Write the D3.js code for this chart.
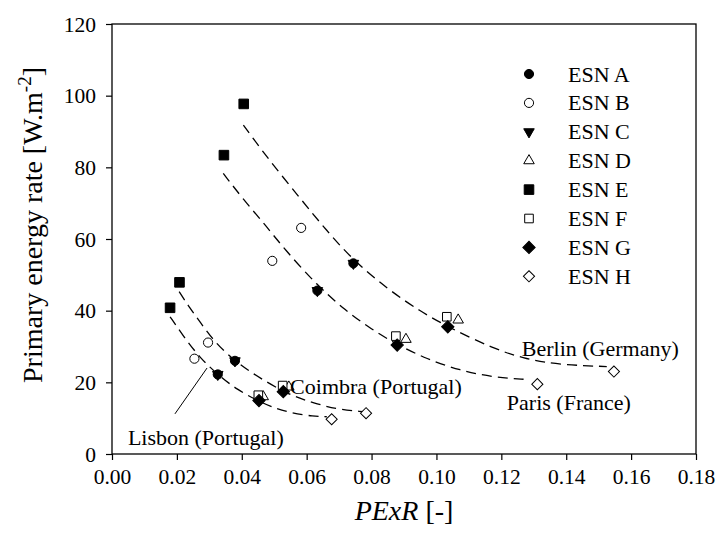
<!DOCTYPE html>
<html>
<head>
<meta charset="utf-8">
<script src="https://cdn.jsdelivr.net/npm/d3@7"></script>
<style>
  html, body { margin: 0; padding: 0; background: #fff; }
  svg { display: block; font-family: "Liberation Serif", "Times New Roman", serif; }
</style>
</head>
<body>
<svg id="chart" width="717" height="543"></svg>
<script>
// Each envelope solution: [PExR, primary energy rate] for Lisbon, Coimbra, Paris, Berlin
const esnA = [[0.0326, 22.2], [0.0379, 26.0], [0.0633, 45.6], [0.0744, 53.2]];
const esnB = [[0.0254, 26.6], [0.0296, 31.1], [0.0494, 53.9], [0.0583, 63.1]];
const esnC = [[0.0326, 22.2], [0.0379, 26.0], [0.0633, 45.6], [0.0744, 53.2]];
const esnD = [[0.0466, 16.0], [0.0545, 18.7], [0.0906, 32.0], [0.1067, 37.4]];
const esnE = [[0.0179, 40.8], [0.0208, 47.9], [0.0345, 83.4], [0.0406, 97.7]];
const esnF = [[0.0451, 16.4], [0.0526, 19.1], [0.0875, 32.9], [0.1032, 38.3]];
const esnG = [[0.0453, 14.9], [0.0528, 17.4], [0.0879, 30.4], [0.1035, 35.5]];
const esnH = [[0.0677, 9.7], [0.0783, 11.4], [0.1311, 19.5], [0.1547, 23.0]];

const seriesLabels = ["ESN A", "ESN B", "ESN C", "ESN D", "ESN E", "ESN F", "ESN G", "ESN H"];

// Trend curves per climate
const lisbonTrend = [[0.0179, 38.3], [0.0220, 32.9], [0.0271, 26.8], [0.0326, 22.2], [0.0384, 18.0],
  [0.0451, 14.8], [0.0497, 12.9], [0.0554, 11.4], [0.0621, 10.5], [0.0662, 10.4]];
const coimbraTrend = [[0.0207, 45.3], [0.0240, 40.7], [0.0271, 36.9], [0.0317, 31.1], [0.0379, 26.0],
  [0.0425, 23.0], [0.0466, 20.7], [0.0528, 17.4], [0.0579, 15.5], [0.0631, 14.0], [0.0693, 12.5], [0.0775, 11.8]];
const parisTrend = [[0.0343, 78.3], [0.0405, 71.0], [0.0472, 64.0], [0.0533, 57.0], [0.0633, 47.0],
  [0.0720, 40.0], [0.0800, 34.8], [0.0877, 30.6], [0.0970, 26.5], [0.1073, 23.3], [0.1175, 21.4], [0.1278, 20.8]];
const berlinTrend = [[0.0405, 91.8], [0.0480, 82.5], [0.0583, 71.0], [0.0660, 62.5], [0.0744, 54.0],
  [0.0850, 46.0], [0.0950, 39.8], [0.1037, 35.4], [0.1175, 29.4], [0.1278, 26.4], [0.1381, 24.9], [0.1525, 24.4]];

const xTicks = [0, 0.02, 0.04, 0.06, 0.08, 0.10, 0.12, 0.14, 0.16, 0.18];
const yTicks = [0, 20, 40, 60, 80, 100, 120];

const climateNames = ["Lisbon (Portugal)", "Coimbra (Portugal)", "Paris (France)", "Berlin (Germany)"];

// ---- drawing ----
const svg = d3.select("#chart");
const plotLeft = 112, plotRight = 696, plotTop = 24, plotBottom = 454;

const x = d3.scaleLinear().domain([0, 0.18]).range([plotLeft, plotRight]);
const y = d3.scaleLinear().domain([0, 120]).range([plotBottom, plotTop]);

// marker styles, in series order
const markerStyles = [
  { type: d3.symbolCircle,   size: 66, fill: "#000", rot: 0 },
  { type: d3.symbolCircle,   size: 66, fill: "#fff", rot: 0 },
  { type: d3.symbolTriangle, size: 48, fill: "#000", rot: 180 },
  { type: d3.symbolTriangle, size: 48, fill: "#fff", rot: 0 },
  { type: d3.symbolSquare,   size: 92, fill: "#000", rot: 0 },
  { type: d3.symbolSquare,   size: 74, fill: "#fff", rot: 0 },
  { type: d3.symbolSquare,   size: 76, fill: "#000", rot: 45 },
  { type: d3.symbolSquare,   size: 62, fill: "#fff", rot: 45 }
];
const allSeries = [esnA, esnB, esnC, esnD, esnE, esnF, esnG, esnH];

// trend curves
const trendLine = d3.line()
  .x(d => x(d[0]))
  .y(d => y(d[1]))
  .curve(d3.curveBasis);

svg.append("g")
  .selectAll("path")
  .data([lisbonTrend, coimbraTrend, parisTrend, berlinTrend])
  .join("path")
  .attr("d", trendLine)
  .attr("fill", "none")
  .attr("stroke", "#000")
  .attr("stroke-width", 1.3)
  .attr("stroke-dasharray", "10,6");

// axes
const fontTick = 21.5;
const xAxis = d3.axisBottom(x).tickValues(xTicks).tickFormat(d3.format(".2f")).tickSize(6).tickSizeOuter(0).tickPadding(10);
const yAxis = d3.axisLeft(y).tickValues(yTicks).tickFormat(d3.format("d")).tickSize(6).tickSizeOuter(0).tickPadding(10);

const gx = svg.append("g").attr("transform", `translate(0,${plotBottom})`).call(xAxis);
const gy = svg.append("g").attr("transform", `translate(${plotLeft},0)`).call(yAxis);
[gx, gy].forEach(g => {
  g.select(".domain").remove();
  g.selectAll(".tick line").attr("stroke", "#000").attr("stroke-width", 1.2);
  g.selectAll(".tick text")
    .attr("fill", "#000")
    .style("font-family", "'Liberation Serif', 'Times New Roman', serif")
    .style("font-size", fontTick + "px");
});
gx.selectAll(".tick text").attr("dy", "0.67em");
gy.selectAll(".tick text").attr("dy", "0.34em");

// frame
svg.append("rect")
  .attr("x", plotLeft).attr("y", plotTop)
  .attr("width", plotRight - plotLeft).attr("height", plotBottom - plotTop)
  .attr("fill", "none").attr("stroke", "#000").attr("stroke-width", 1.3);

// markers
function symbolPath(style) {
  return d3.symbol().type(style.type).size(style.size)();
}
allSeries.forEach((series, i) => {
  const st = markerStyles[i];
  svg.append("g")
    .selectAll("path")
    .data(series)
    .join("path")
    .attr("d", symbolPath(st))
    .attr("transform", d => `translate(${x(d[0])},${y(d[1])}) rotate(${st.rot})`)
    .attr("fill", st.fill)
    .attr("stroke", "#000")
    .attr("stroke-width", 1);
});

// climate annotations
const annot = svg.append("g")
  .style("font-size", "22px")
  .attr("fill", "#000");
const annotAt = [[0.0049, 2.5], [0.0549, 16.7], [0.1217, 12.3], [0.1263, 27.35]];
climateNames.forEach((name, i) => {
  annot.append("text")
    .attr("x", x(annotAt[i][0]))
    .attr("y", y(annotAt[i][1]))
    .text(name);
});
// leader from the Lisbon label to its curve
svg.append("line")
  .attr("x1", x(0.0194)).attr("y1", y(11.2))
  .attr("x2", x(0.0293)).attr("y2", y(24.0))
  .attr("stroke", "#000").attr("stroke-width", 1);

// legend
const legend = svg.append("g");
const legendX = 529, legendY = 74, legendStep = 28.9;
seriesLabels.forEach((label, i) => {
  const st = markerStyles[i];
  const ly = legendY + i * legendStep;
  legend.append("path")
    .attr("d", symbolPath(st))
    .attr("transform", `translate(${legendX},${ly}) rotate(${st.rot})`)
    .attr("fill", st.fill)
    .attr("stroke", "#000")
    .attr("stroke-width", 1);
  legend.append("text")
    .attr("x", 568)
    .attr("y", ly + 7.5)
    .style("font-size", "22px")
    .text(label);
});

// axis titles
const xTitle = svg.append("text")
  .attr("x", (plotLeft + plotRight) / 2)
  .attr("y", 520)
  .attr("text-anchor", "middle")
  .style("font-size", "28px");
xTitle.append("tspan").style("font-style", "italic").text("PExR");
xTitle.append("tspan").text(" [-]");

const yTitle = svg.append("text")
  .attr("transform", "translate(42,225) rotate(-90)")
  .attr("text-anchor", "middle")
  .style("font-size", "28px");
yTitle.append("tspan").text("Primary energy rate [W.m");
yTitle.append("tspan").attr("dy", -11).style("font-size", "19px").text("-2");
yTitle.append("tspan").attr("dy", 11).text("]");
</script>
</body>
</html>
